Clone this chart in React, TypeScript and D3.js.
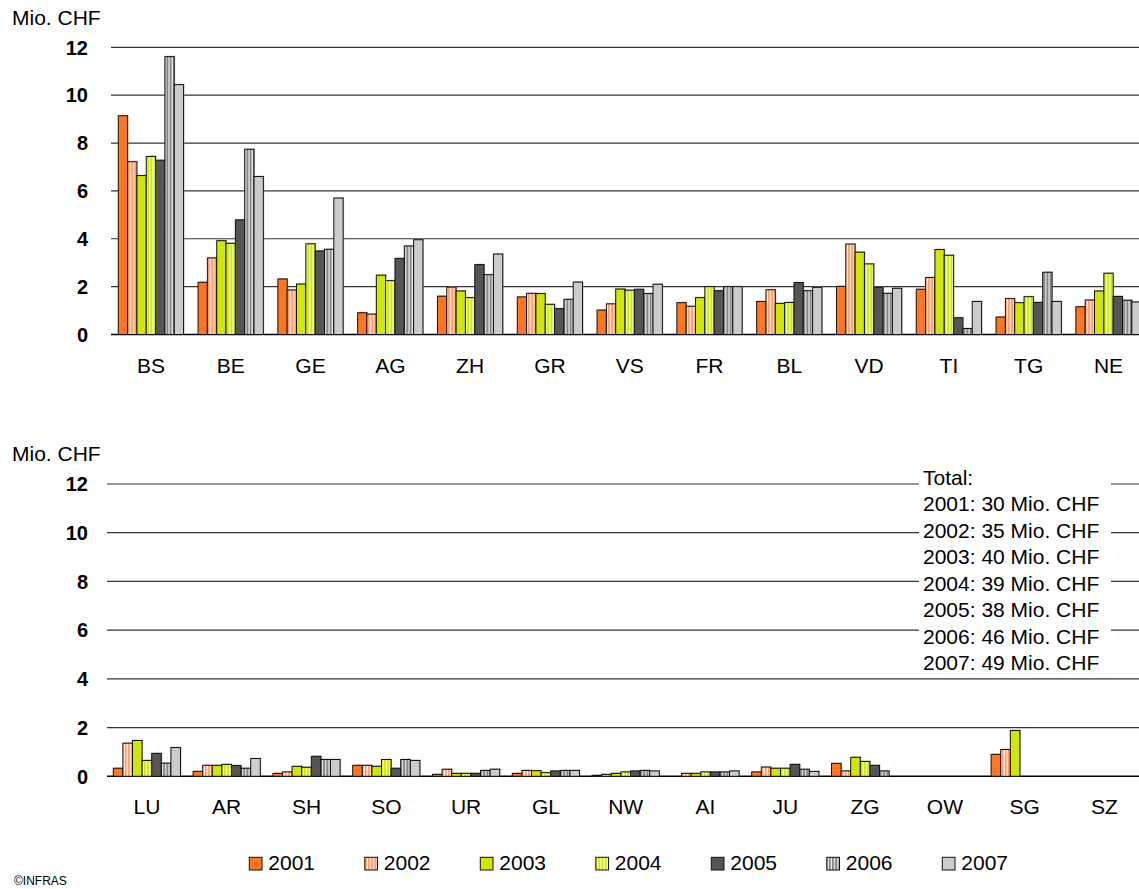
import React from "react";
import * as d3 from "d3";

const years = ["2001", "2002", "2003", "2004", "2005", "2006", "2007"];
const topCats = ["BS", "BE", "GE", "AG", "ZH", "GR", "VS", "FR", "BL", "VD", "TI", "TG", "NE"];
const bottomCats = ["LU", "AR", "SH", "SO", "UR", "GL", "NW", "AI", "JU", "ZG", "OW", "SG", "SZ"];

const top2001 = [9.14, 2.18, 2.32, 0.91, 1.6, 1.57, 1.02, 1.33, 1.38, 2.01, 1.89, 0.73, 1.16];
const top2002 = [7.22, 3.2, 1.86, 0.85, 1.98, 1.72, 1.28, 1.18, 1.87, 3.78, 2.38, 1.5, 1.44];
const top2003 = [6.64, 3.92, 2.11, 2.48, 1.82, 1.71, 1.9, 1.54, 1.3, 3.44, 3.55, 1.33, 1.82];
const top2004 = [7.44, 3.81, 3.79, 2.25, 1.54, 1.26, 1.85, 2.0, 1.34, 2.95, 3.31, 1.58, 2.56];
const top2005 = [7.28, 4.79, 3.49, 3.18, 2.92, 1.08, 1.89, 1.83, 2.17, 1.97, 0.7, 1.34, 1.59];
const top2006 = [11.61, 7.74, 3.56, 3.7, 2.5, 1.47, 1.71, 2.0, 1.83, 1.72, 0.25, 2.6, 1.43];
const top2007 = [10.44, 6.6, 5.7, 3.96, 3.36, 2.19, 2.1, 2.0, 1.97, 1.93, 1.38, 1.38, 1.36];

const bot2001 = [0.33, 0.2, 0.12, 0.45, 0.08, 0.12, 0.04, 0, 0.18, 0.53, 0, 0.9, 0];
const bot2002 = [1.36, 0.45, 0.18, 0.45, 0.29, 0.24, 0.08, 0.12, 0.38, 0.22, 0, 1.1, 0];
const bot2003 = [1.47, 0.45, 0.41, 0.41, 0.12, 0.23, 0.12, 0.12, 0.33, 0.78, 0, 1.88, 0];
const bot2004 = [0.65, 0.49, 0.37, 0.69, 0.12, 0.15, 0.18, 0.18, 0.33, 0.61, 0, 0, 0];
const bot2005 = [0.94, 0.44, 0.82, 0.33, 0.12, 0.22, 0.22, 0.18, 0.49, 0.45, 0, 0, 0];
const bot2006 = [0.54, 0.33, 0.69, 0.69, 0.24, 0.24, 0.24, 0.18, 0.29, 0.22, 0, 0, 0];
const bot2007 = [1.18, 0.73, 0.69, 0.65, 0.29, 0.24, 0.22, 0.22, 0.2, 0, 0, 0, 0];

const topSeries = [top2001, top2002, top2003, top2004, top2005, top2006, top2007];
const botSeries = [bot2001, bot2002, bot2003, bot2004, bot2005, bot2006, bot2007];

const yTicks = [0, 2, 4, 6, 8, 10, 12];
const totals = [30, 35, 40, 39, 38, 46, 49];
const unitLabel = "Mio. CHF";

const fills = [
  "#FF7622",
  "url(#p2002)",
  "#D0E50A",
  "url(#p2004)",
  "#555555",
  "url(#p2006)",
  "#CCCCCC",
];

const W = 1139;
const H = 889;
const FONT = "'Liberation Sans', Arial, sans-serif";

type PanelProps = {
  cats: string[];
  series: number[][];
  x0: number;
  y0: number;
  y12: number;
  innerPad: number;
  labelY: number;
  unitY: number;
};

function Panel({ cats, series, x0, y0, y12, innerPad, labelY, unitY }: PanelProps) {
  const step = 79.8;
  const x = d3.scaleBand<string>().domain(cats).range([x0, x0 + step * cats.length]).padding(0);
  const x1 = d3.scaleBand<string>().domain(years).range([innerPad, step - innerPad]).padding(0);
  const y = d3.scaleLinear().domain([0, 12]).range([y0, y12]);
  return (
    <g>
      <text x={12} y={unitY} fontSize={21} fontFamily={FONT} fill="#000">
        {unitLabel}
      </text>
      {yTicks.map((t) => (
        <g key={t}>
          <line
            x1={x0}
            x2={W}
            y1={y(t)}
            y2={y(t)}
            stroke={t === 0 ? "#000" : "#333"}
            strokeWidth={t === 0 ? 1.5 : 1.2}
          />
          <text
            x={88}
            y={y(t)}
            dy="0.36em"
            textAnchor="end"
            fontSize={20}
            fontWeight="bold"
            fontFamily={FONT}
            fill="#000"
          >
            {t}
          </text>
        </g>
      ))}
      {cats.map((c, ci) => (
        <g key={c}>
          {series.map((s, si) => {
            const v = s[ci];
            if (!v) return null;
            const bx = (x(c) as number) + (x1(years[si]) as number);
            const bw = x1.bandwidth();
            return (
              <g key={si}>
                <rect x={bx + 1} y={y(v) - 1} width={bw} height={y0 - y(v) + 1} fill="#9a9a9a" opacity={0.55} />
                <rect x={bx} y={y(v)} width={bw} height={y0 - y(v)} fill={fills[si]} stroke="#111" strokeWidth={1} />
              </g>
            );
          })}
          <text
            x={(x(c) as number) + x.bandwidth() / 2}
            y={labelY}
            textAnchor="middle"
            fontSize={21}
            fontFamily={FONT}
            fill="#000"
          >
            {c}
          </text>
        </g>
      ))}
    </g>
  );
}

export default function App() {
  const legendX = d3.scaleLinear().domain([0, 6]).range([249.3, 942.3]);
  return (
    <svg
      width={W}
      height={H}
      style={{ position: "fixed", left: 0, top: 0, background: "#fff" }}
      xmlns="http://www.w3.org/2000/svg"
    >
      <defs>
        <pattern id="p2002" patternUnits="userSpaceOnUse" width={3.2} height={10}>
          <rect width={3.2} height={10} fill="#FFF2EA" />
          <rect width={2} height={10} fill="#FF9E6A" />
        </pattern>
        <pattern id="p2004" patternUnits="userSpaceOnUse" width={3.2} height={10}>
          <rect width={3.2} height={10} fill="#F7FFC8" />
          <rect width={2} height={10} fill="#D3E60E" />
        </pattern>
        <pattern id="p2006" patternUnits="userSpaceOnUse" width={3.2} height={10}>
          <rect width={3.2} height={10} fill="#F0F0F0" />
          <rect width={2} height={10} fill="#858585" />
        </pattern>
      </defs>
      <rect width={W} height={H} fill="#fff" />

      <Panel cats={topCats} series={topSeries} x0={111} y0={334.5} y12={47.3} innerPad={7.25} labelY={373} unitY={25} />
      <Panel cats={bottomCats} series={botSeries} x0={107} y0={776.3} y12={484} innerPad={6.3} labelY={814} unitY={461} />

      <rect x={919} y={464} width={192} height={212} fill="#fff" />
      <text fontSize={21} fontFamily={FONT} fill="#000">
        <tspan x={923} y={477} dy="0.36em">Total:</tspan>
        {years.map((yr, i) => (
          <tspan key={yr} x={923} y={503.5 + i * 26.5} dy="0.36em">
            {`${yr}: ${totals[i]} ${unitLabel}`}
          </tspan>
        ))}
      </text>

      {years.map((yr, i) => (
        <g key={yr}>
          <rect x={legendX(i)} y={857.3} width={12.7} height={12.7} fill={fills[i]} stroke="#111" strokeWidth={1} />
          <text x={legendX(i) + 19} y={870} fontSize={21} fontFamily={FONT} fill="#000">
            {yr}
          </text>
        </g>
      ))}

      <text x={14} y={885} fontSize={12} fontFamily={FONT} fill="#000">
        ©INFRAS
      </text>
    </svg>
  );
}
